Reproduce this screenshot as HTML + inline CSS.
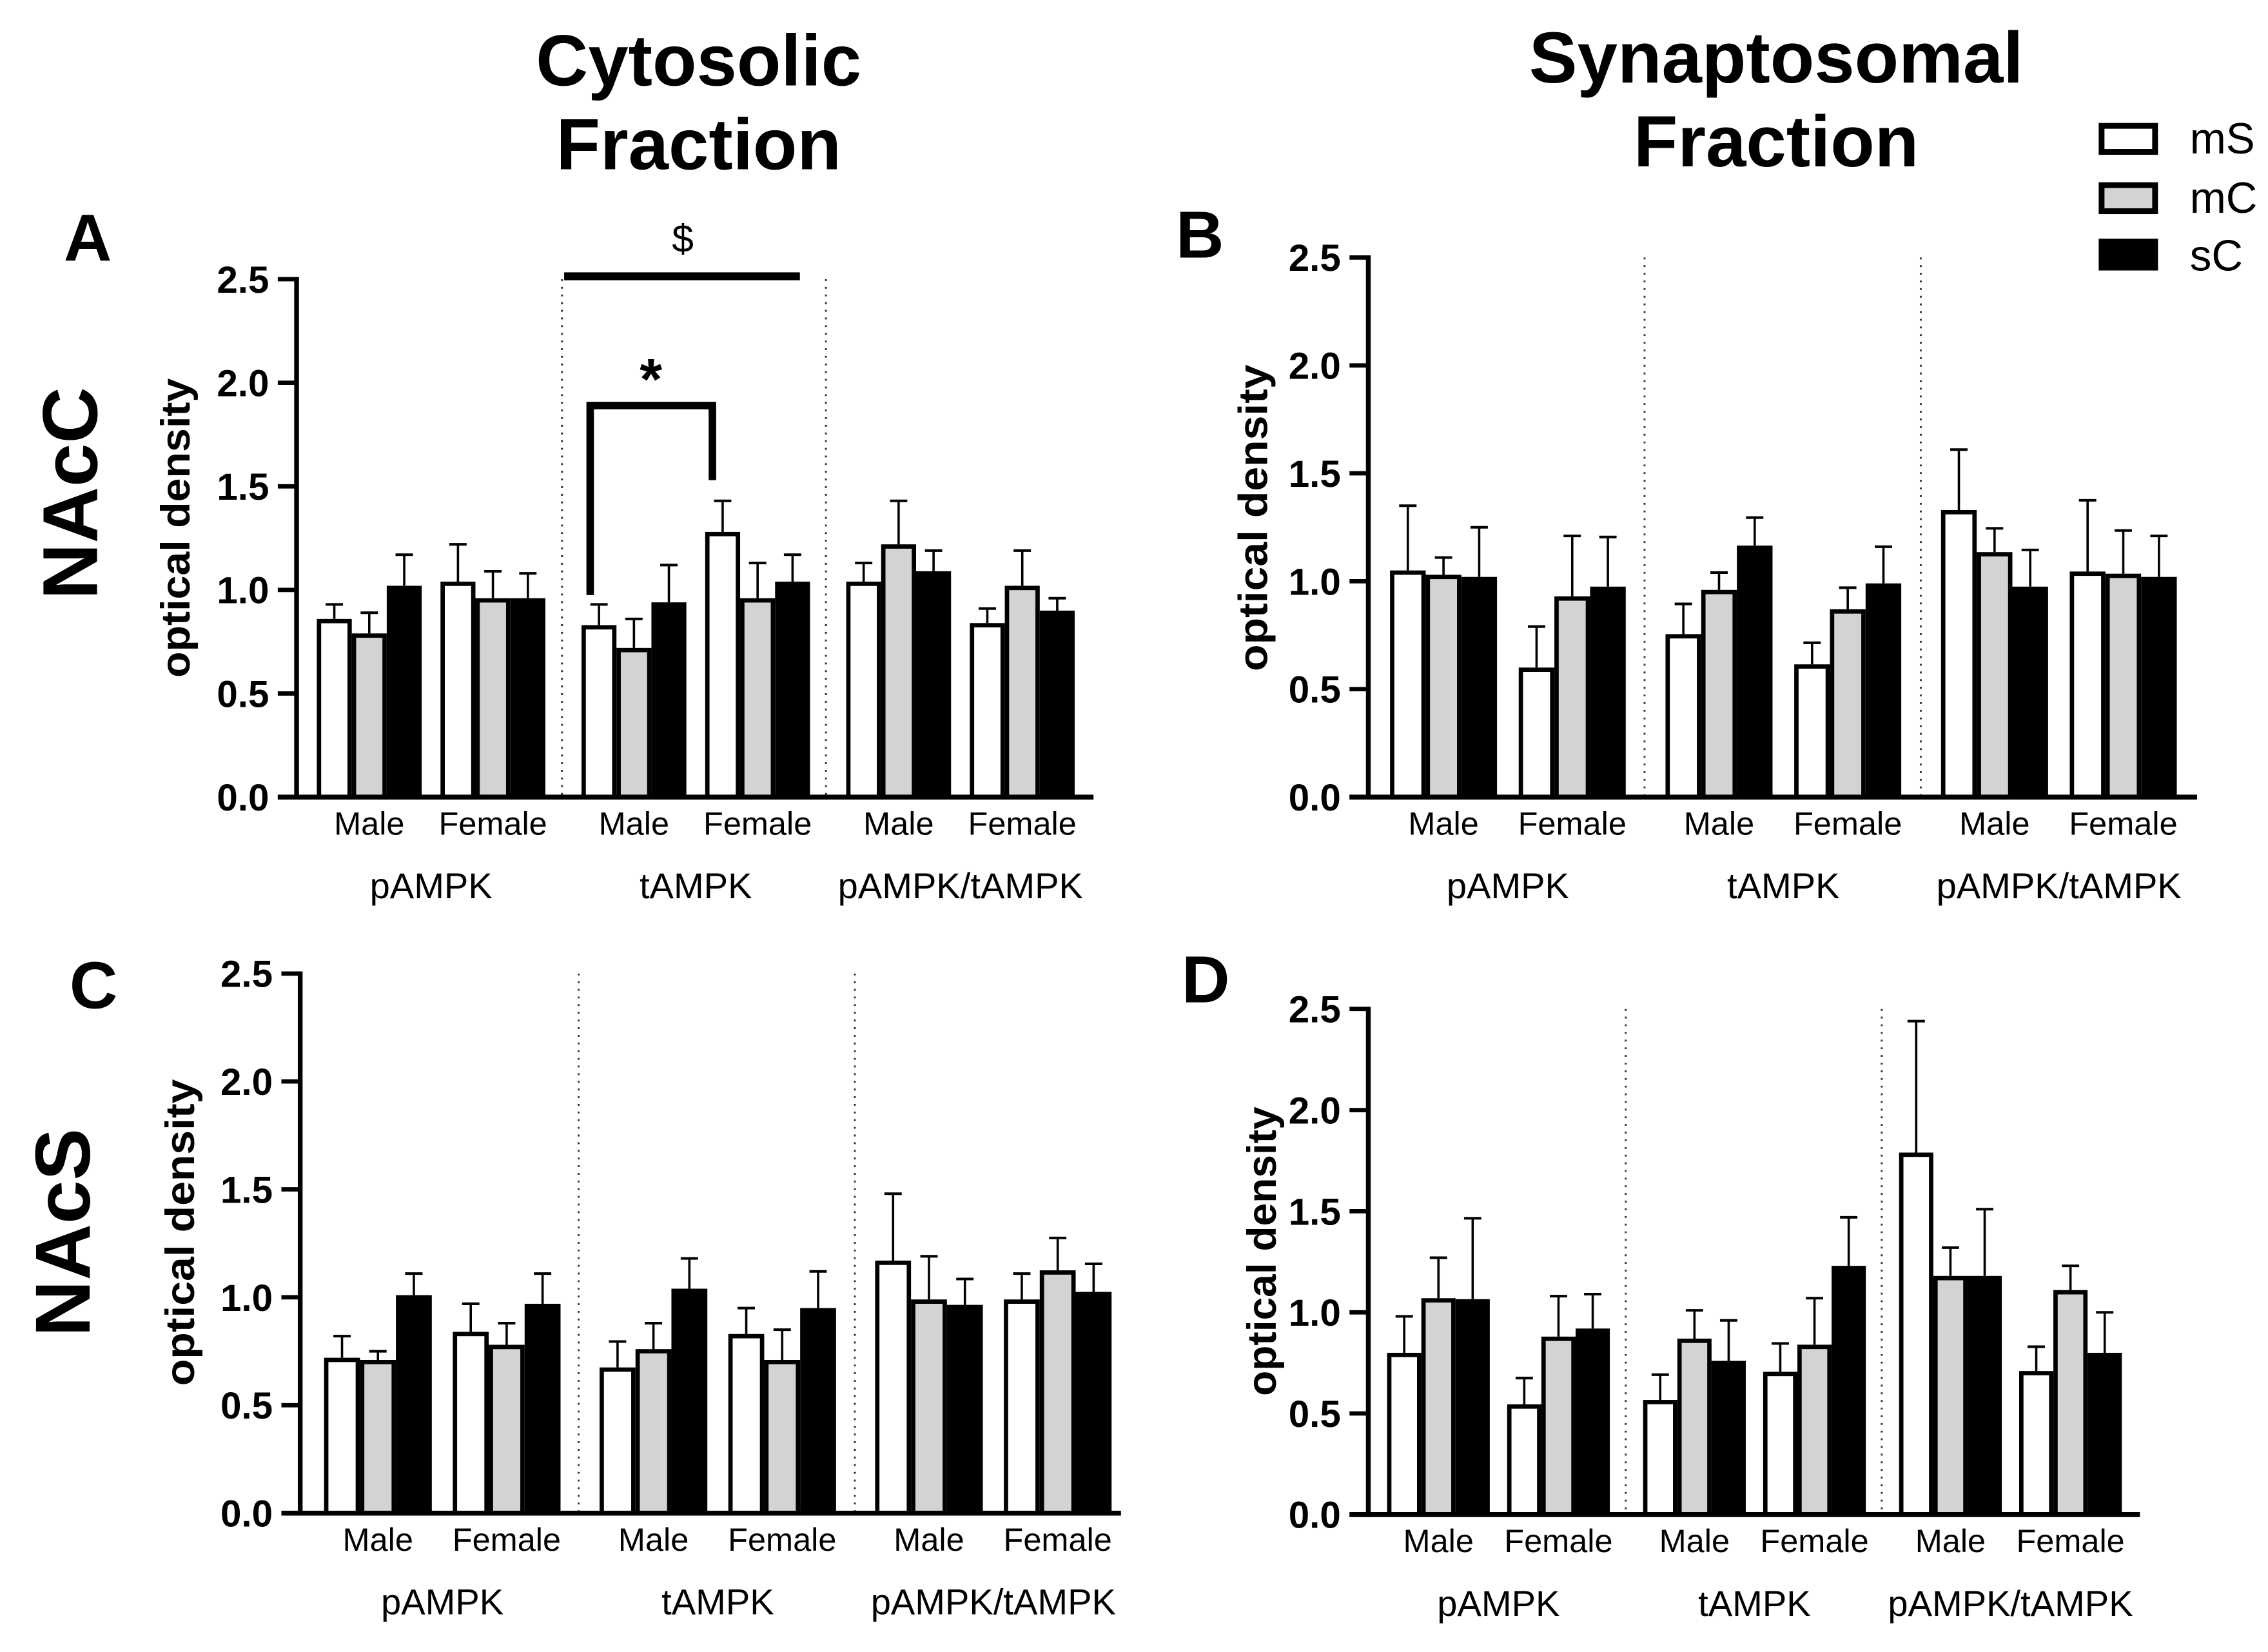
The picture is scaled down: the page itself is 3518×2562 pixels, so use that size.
<!DOCTYPE html>
<html><head><meta charset="utf-8"><style>
html,body{margin:0;padding:0;background:#fff;}
svg{display:block;}
text{font-family:"Liberation Sans",Arial,sans-serif;fill:#000;}
</style></head><body>
<svg id="fig" xmlns="http://www.w3.org/2000/svg" width="3518" height="2562" viewBox="0 0 1568 1142">
<rect x="0" y="0" width="1568" height="1142" fill="#fff"/>
<g>
<text x="483" y="59" font-size="50" font-weight="bold" text-anchor="middle">Cytosolic</text>
<text x="483" y="117" font-size="50" font-weight="bold" text-anchor="middle">Fraction</text>
<text x="1228" y="57" font-size="50" font-weight="bold" text-anchor="middle">Synaptosomal</text>
<text x="1228" y="115" font-size="50" font-weight="bold" text-anchor="middle">Fraction</text>
<text transform="translate(67,341) rotate(-90)" font-size="54" font-weight="bold" text-anchor="middle">NAcC</text>
<text transform="translate(62,852) rotate(-90)" font-size="54" font-weight="bold" text-anchor="middle">NAcS</text>
<text x="44" y="180" font-size="46" font-weight="bold">A</text>
<text x="813" y="178" font-size="46" font-weight="bold">B</text>
<text x="48" y="697" font-size="46" font-weight="bold">C</text>
<text x="817" y="693" font-size="46" font-weight="bold">D</text>
</g>
<g>
<rect x="1453" y="87" width="37" height="18" fill="#fff" stroke="#000" stroke-width="4"/>
<text x="1514" y="106" font-size="30">mS</text>
<rect x="1453" y="128" width="37" height="18" fill="#d3d3d3" stroke="#000" stroke-width="4"/>
<text x="1514" y="147" font-size="30">mC</text>
<rect x="1451" y="165" width="41" height="22" fill="#000"/>
<text x="1514" y="187" font-size="30">sC</text>
</g>
<g id="charts"></g>
</svg>
<script>
// Panel A (NAcC cytosolic): groups = pAMPK-M, pAMPK-F, tAMPK-M, tAMPK-F, ratio-M, ratio-F
const aMS = [0.86, 1.04, 0.83, 1.28, 1.04, 0.84];
const aMSerr = [0.07, 0.18, 0.10, 0.15, 0.09, 0.07];
const aMC = [0.79, 0.96, 0.72, 0.96, 1.22, 1.02];
const aMCerr = [0.10, 0.13, 0.14, 0.17, 0.21, 0.17];
const aSC = [1.02, 0.96, 0.94, 1.04, 1.09, 0.90];
const aSCerr = [0.15, 0.12, 0.18, 0.13, 0.10, 0.06];
// Panel B (NAcC synaptosomal)
const bMS = [1.05, 0.60, 0.755, 0.615, 1.33, 1.045];
const bMSerr = [0.30, 0.19, 0.14, 0.10, 0.28, 0.33];
const bMC = [1.03, 0.93, 0.96, 0.87, 1.135, 1.035];
const bMCerr = [0.08, 0.28, 0.08, 0.10, 0.11, 0.20];
const bSC = [1.02, 0.975, 1.165, 0.99, 0.975, 1.02];
const bSCerr = [0.23, 0.23, 0.13, 0.17, 0.17, 0.19];
// Panel C (NAcS cytosolic)
const cMS = [0.72, 0.84, 0.675, 0.83, 1.17, 0.99];
const cMSerr = [0.10, 0.13, 0.12, 0.12, 0.31, 0.12];
const cMC = [0.71, 0.78, 0.76, 0.71, 0.99, 1.125];
const cMCerr = [0.04, 0.10, 0.12, 0.14, 0.20, 0.15];
const cSC = [1.01, 0.97, 1.04, 0.95, 0.965, 1.025];
const cSCerr = [0.10, 0.14, 0.14, 0.17, 0.12, 0.13];
// Panel D (NAcS synaptosomal)
const dMS = [0.80, 0.545, 0.567, 0.706, 1.79, 0.71];
const dMSerr = [0.18, 0.13, 0.125, 0.14, 0.65, 0.12];
const dMC = [1.07, 0.88, 0.87, 0.84, 1.18, 1.11];
const dMCerr = [0.20, 0.20, 0.14, 0.23, 0.14, 0.12];
const dSC = [1.065, 0.92, 0.76, 1.23, 1.18, 0.80];
const dSCerr = [0.40, 0.17, 0.20, 0.24, 0.33, 0.20];
const yTicks = [0, 0.5, 1.0, 1.5, 2.0, 2.5];
const yTickLabels = ["0.0", "0.5", "1.0", "1.5", "2.0", "2.5"];
const sexLabels = ["Male", "Female"];
const categoryLabels = ["pAMPK", "tAMPK", "pAMPK/tAMPK"];
const seriesNames = ["ms", "mc", "sc"];
const seriesFills = ["#ffffff", "#d3d3d3", "#000000"];

const NS = "http://www.w3.org/2000/svg";
const root = document.getElementById("charts");
function mk(tag, attrs, parent) {
  const e = document.createElementNS(NS, tag);
  for (const k in attrs) e.setAttribute(k, attrs[k]);
  parent.appendChild(e);
  return e;
}

const panels = [
  {id: "a", data: [[aMS, aMSerr], [aMC, aMCerr], [aSC, aSCerr]], ax: 205, y0: 551, yTop: 193, x0: 219, sexP: 85.5, catP: 183, gw: 72.5, xEnd: 756, div: [388.5, 571], ylx: 121, yly: 365, ylLen: 207},
  {id: "b", data: [[bMS, bMSerr], [bMC, bMCerr], [bSC, bSCerr]], ax: 946, y0: 551, yTop: 178, x0: 961, sexP: 89, catP: 190.5, gw: 74, xEnd: 1519, div: [1137, 1328], ylx: 866, yly: 358, ylLen: 212},
  {id: "c", data: [[cMS, cMSerr], [cMC, cMCerr], [cSC, cSCerr]], ax: 207.5, y0: 1046, yTop: 673, x0: 224, sexP: 89, catP: 190.5, gw: 74.5, xEnd: 775, div: [400, 591], ylx: 124, yly: 852, ylLen: 212},
  {id: "d", data: [[dMS, dMSerr], [dMC, dMCerr], [dSC, dSCerr]], ax: 946, y0: 1047, yTop: 697.5, x0: 959, sexP: 83, catP: 177, gw: 71, xEnd: 1479.5, div: [1124, 1301], ylx: 872, yly: 865, ylLen: 200}
];

panels.forEach(p => {
  const g = mk("g", {}, root);
  
  
  const yScale = v => p.y0 - (v / 2.5) * (p.y0 - p.yTop);
  const groupStart = i => p.x0 + Math.floor(i / 2) * p.catP + (i % 2) * p.sexP;
  const bw = p.gw / 3;

  // dividers
  p.div.forEach((dx, k) => {
    const l = mk("line", {x1: dx, x2: dx, y1: p.yTop, y2: p.y0, stroke: "#333", "stroke-width": 1.3, "stroke-dasharray": "1.3 4"}, g);
    
    
  });

  // bars
  for (let s = 0; s < 3; s++) {
    const vals = p.data[s][0], errs = p.data[s][1];
    vals.forEach((v, i) => {
      const x = groupStart(i) + s * bw;
      const yv = yScale(v);
      const ye = yScale(v + errs[i]);
      const cx = x + bw / 2;
      const el = mk("line", {x1: cx, x2: cx, y1: yv, y2: ye, stroke: "#000", "stroke-width": 1.6}, g);
      
      
      const cap = mk("line", {x1: cx - 6, x2: cx + 6, y1: ye, y2: ye, stroke: "#000", "stroke-width": 1.8}, g);
      
      
      const r = mk("rect", {x: x + 1.5, y: yv + 1.5, width: bw - 3, height: Math.max(0, p.y0 - yv - 1.5), fill: seriesFills[s], stroke: "#000", "stroke-width": 3}, g);
      
      
    });
  }

  // axes
  const yAxis = mk("line", {x1: p.ax, x2: p.ax, y1: p.yTop - 1.5, y2: p.y0 + 1.7, stroke: "#000", "stroke-width": 3.3}, g);
  
  
  const xAxis = mk("line", {x1: p.ax - 13, x2: p.xEnd, y1: p.y0, y2: p.y0, stroke: "#000", "stroke-width": 3.4}, g);
  
  
  yTicks.forEach((t, k) => {
    const y = yScale(t);
    const tk = mk("line", {x1: p.ax - 13, x2: p.ax, y1: y, y2: y, stroke: "#000", "stroke-width": 3}, g);
    
    
    const tl = mk("text", {x: p.ax - 19, y: y + 9.3, "font-size": 26, "font-weight": "bold", "text-anchor": "end"}, g);
    tl.textContent = yTickLabels[k];
    
    
  });
  const yl = mk("text", {transform: `translate(${p.ylx + 10},${p.yly}) rotate(-90)`, "font-size": 28, "font-weight": "bold", "text-anchor": "middle", textLength: p.ylLen, lengthAdjust: "spacingAndGlyphs"}, g);
  yl.textContent = "optical density";
  
  

  // x labels
  for (let i = 0; i < 6; i++) {
    const t = mk("text", {x: groupStart(i) + p.gw / 2, y: p.y0 + 26, "font-size": 22.5, "text-anchor": "middle"}, g);
    t.textContent = sexLabels[i % 2];
    
    
  }
  for (let c = 0; c < 3; c++) {
    const cx = (groupStart(2 * c) + groupStart(2 * c + 1) + p.gw) / 2;
    const t = mk("text", {x: cx, y: p.y0 + 70, "font-size": 25, "text-anchor": "middle"}, g);
    t.textContent = categoryLabels[c];
    
    
  }

  // significance markers (panel A only)
  if (p.id === "a") {
    const b = mk("polyline", {points: `408,${yScale(0.975)} 408,${yScale(1.89)} 492.5,${yScale(1.89)} 492.5,${yScale(1.53)}`, fill: "none", stroke: "#000", "stroke-width": 5.2}, g);
    
    
    const st = mk("text", {x: 450, y: 276, "font-size": 40, "font-weight": "bold", "text-anchor": "middle"}, g);
    st.textContent = "*";
    
    
    const dl = mk("line", {x1: 390, x2: 553, y1: 191, y2: 191, stroke: "#000", "stroke-width": 5.5}, g);
    
    
    const ds = mk("text", {x: 472, y: 174, "font-size": 27, "text-anchor": "middle"}, g);
    ds.textContent = "$";
    
    
  }
});
</script>
</body></html>
